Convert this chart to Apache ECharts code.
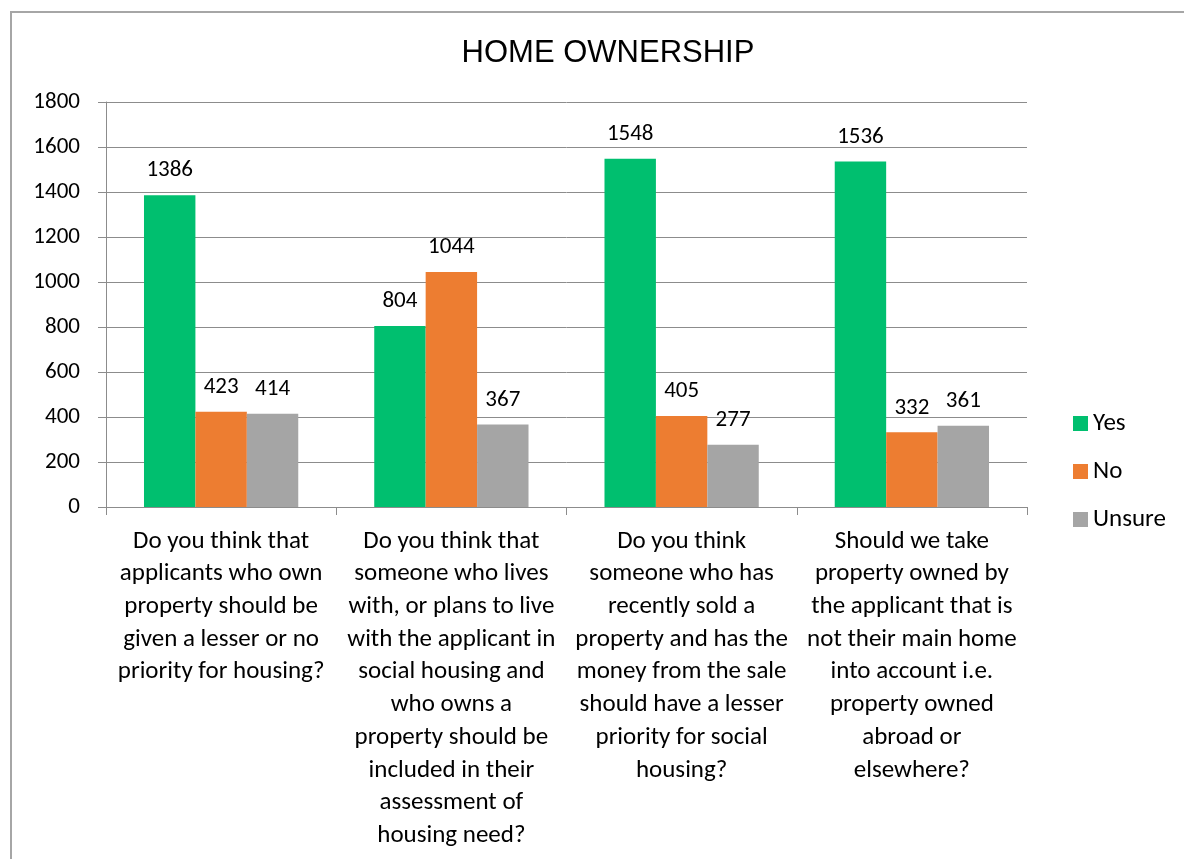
<!DOCTYPE html>
<html>
<head>
<meta charset="utf-8">
<script src="https://cdn.jsdelivr.net/npm/echarts@6/dist/echarts.min.js"></script>
<style>
  html, body { margin: 0; padding: 0; background: #fff; overflow: hidden; }
  #frame { position: absolute; left: 10px; top: 11px; width: 1300px; height: 1000px;
           border-left: 2px solid #a6a6a6; border-top: 2px solid #a6a6a6; }
  #chart { position: absolute; left: 0; top: 0; width: 1184px; height: 859px; }
</style>
</head>
<body>
<div id="frame"></div>
<div id="chart"></div>
<script>
// wrapped the same way as the reference labels
var categories = [
  'Do you think that\napplicants who own\nproperty should be\ngiven a lesser or no\npriority for housing?',
  'Do you think that\nsomeone who lives\nwith, or plans to live\nwith the applicant in\nsocial housing and\nwho owns a\nproperty should be\nincluded in their\nassessment of\nhousing need?',
  'Do you think\nsomeone who has\nrecently sold a\nproperty and has the\nmoney from the sale\nshould have a lesser\npriority for social\nhousing?',
  'Should we take\nproperty owned by\nthe applicant that is\nnot their main home\ninto account i.e.\nproperty owned\nabroad or\nelsewhere?'
];
var yesData = [1386, 804, 1548, 1536];
var noData = [423, 1044, 405, 332];
var unsureData = [414, 367, 277, 361];
var yTicks = [0, 200, 400, 600, 800, 1000, 1200, 1400, 1600, 1800];

var font = 'Carlito, Lato, sans-serif';

function makeSeries(name, data, color) {
  return {
    name: name,
    type: 'bar',
    data: data,
    barGap: '0%',
    barCategoryGap: '33%',
    itemStyle: { color: color },
    label: {
      show: true,
      position: 'top',
      distance: 13,
      color: '#000',
      fontSize: 23,
      fontFamily: font
    }
  };
}

var chart = echarts.init(document.getElementById('chart'));
var option = {
  animation: false,
  backgroundColor: 'transparent',
  textStyle: { fontFamily: font, color: '#000' },
  title: {
    text: 'HOME OWNERSHIP',
    left: 603,
    textAlign: 'center',
    top: 33,
    textStyle: { fontSize: 31, fontWeight: 'normal', color: '#000', fontFamily: '"Liberation Sans", Arial, sans-serif' }
  },
  legend: {
    orient: 'vertical',
    left: 1068,
    top: 406,
    itemWidth: 15,
    itemHeight: 15,
    itemGap: 23,
    icon: 'rect',
    textStyle: { fontSize: 25, color: '#000', fontFamily: font, lineHeight: 23 },
    data: ['Yes', 'No', 'Unsure']
  },
  grid: { left: 106, right: 157, top: 102, bottom: 352, containLabel: false },
  xAxis: {
    type: 'category',
    data: categories,
    axisLine: { lineStyle: { color: '#8c8c8c', width: 1 } },
    axisTick: { show: true, length: 8, lineStyle: { color: '#8c8c8c' } },
    axisLabel: {
      interval: 0,
      margin: 18,
      fontSize: 25,
      lineHeight: 32.7,
      color: '#000',
      fontFamily: font,
      align: 'center'
    }
  },
  yAxis: {
    type: 'value',
    min: yTicks[0],
    max: yTicks[yTicks.length - 1],
    interval: 200,
    axisLine: { show: true, lineStyle: { color: '#8c8c8c' } },
    axisTick: { show: true, length: 8, lineStyle: { color: '#8c8c8c' } },
    splitLine: { show: true, lineStyle: { color: '#8c8c8c' } },
    axisLabel: {
      margin: 26, fontSize: 23, color: '#000', fontFamily: font,
      formatter: function (v) { return String(v); }
    }
  },
  series: [
    makeSeries('Yes', yesData, '#00bf6f'),
    makeSeries('No', noData, '#ed7d31'),
    makeSeries('Unsure', unsureData, '#a5a5a5')
  ]
};
chart.setOption(option);
</script>
</body>
</html>
